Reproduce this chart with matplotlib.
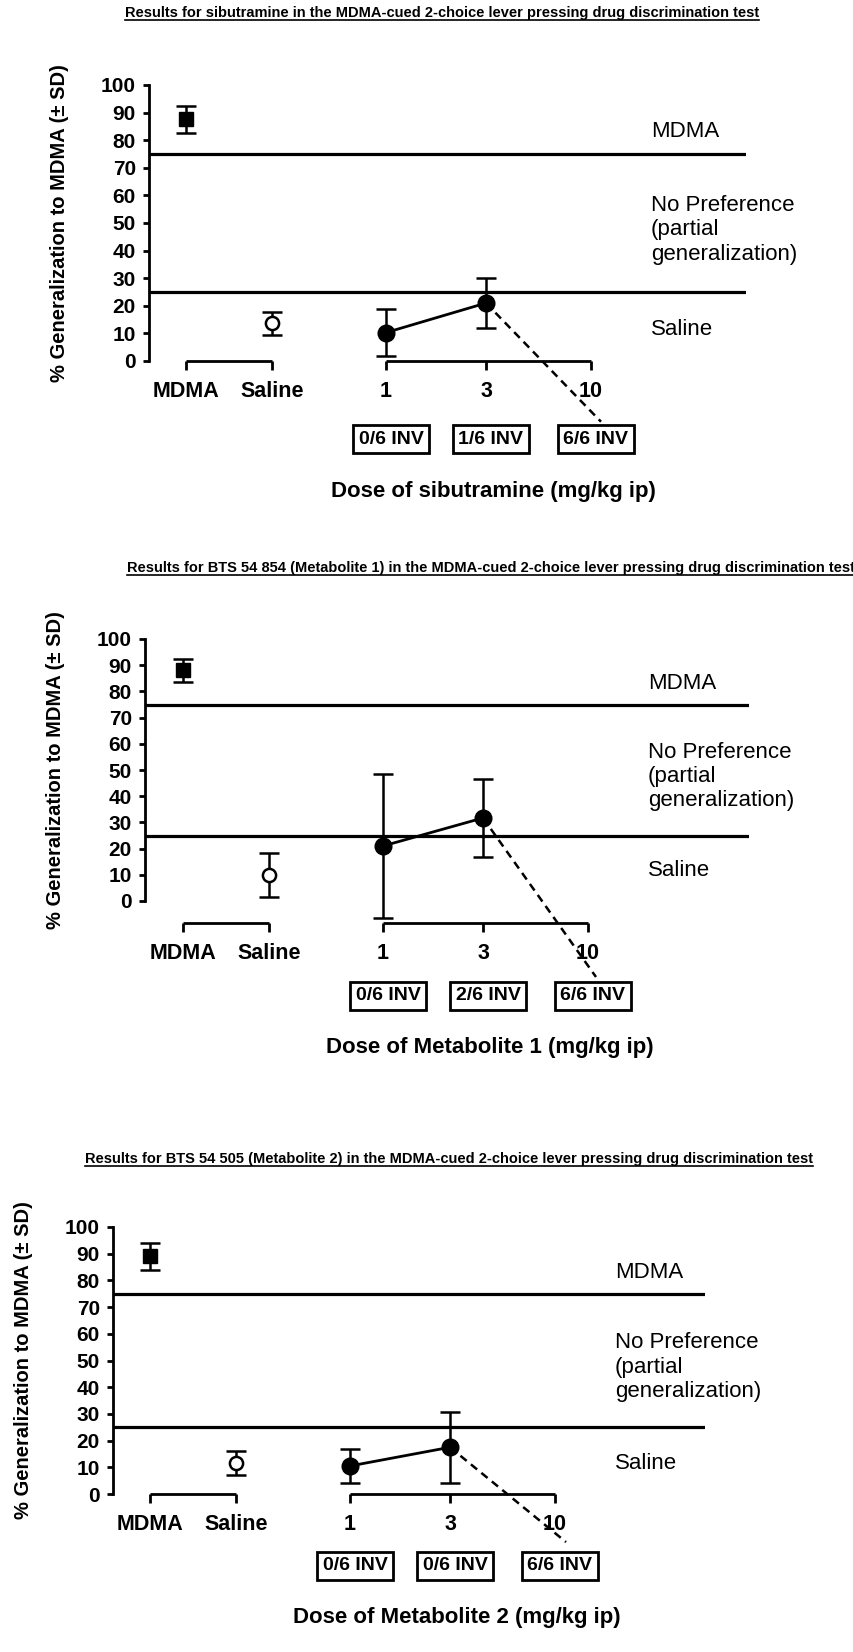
import matplotlib
matplotlib.use('Agg')
import matplotlib.pyplot as plt
from matplotlib.lines import Line2D

plt.rcParams['font.family'] = ['Liberation Sans', 'DejaVu Sans']

W, H, DPI = 854, 1652, 100

# x axis categories
x_labels = ['MDMA', 'Saline', '1', '3', '10']
x_pos = [0, 0.86, 2, 3, 4.05]

titles = [
    'Results for sibutramine in the MDMA-cued 2-choice lever pressing drug discrimination test',
    'Results for BTS 54 854 (Metabolite 1) in the MDMA-cued 2-choice lever pressing drug discrimination test',
    'Results for BTS 54 505 (Metabolite 2) in the MDMA-cued 2-choice lever pressing drug discrimination test',
]
x_titles = [
    'Dose of sibutramine (mg/kg ip)',
    'Dose of Metabolite 1 (mg/kg ip)',
    'Dose of Metabolite 2 (mg/kg ip)',
]
inv_labels = [
    ['0/6 INV', '1/6 INV', '6/6 INV'],
    ['0/6 INV', '2/6 INV', '6/6 INV'],
    ['0/6 INV', '0/6 INV', '6/6 INV'],
]

# mean and SD: MDMA, Saline, dose 1, dose 3
sib_mean = [87.5, 13.6, 10.3, 21.0]
sib_sd = [5.0, 4.2, 8.5, 9.0]
met1_mean = [88.0, 9.9, 21.0, 31.7]
met1_sd = [4.5, 8.4, 27.3, 14.9]
met2_mean = [89.0, 11.5, 10.5, 17.5]
met2_sd = [5.0, 4.5, 6.2, 13.3]
means = [sib_mean, met1_mean, met2_mean]
sds = [sib_sd, met1_sd, met2_sd]

# dashed line from 3 mg/kg towards 10 mg/kg (all invalid)
dash_end_x = [4.15, 4.13, 4.16]
dash_end_y = [-22, -29, -18]

# layout of each panel in pixels: left, right, top(100), bottom(0), x of MDMA,
# bracket offset, title centre x, title baseline, box offset, xlabel offset
panels = [
    (149, 746, 85, 361, 186, 0, 442, 17, 78, 131),
    (145, 749, 639, 901, 183, 22, 491, 572, 95, 146),
    (113, 705, 1227, 1494, 150, 0, 449, 1163, 72, 123),
]

fig = plt.figure(figsize=(W / DPI, H / DPI), dpi=DPI)
title_texts = []

for i, (l, r, t, b, x0, br_off, tx, ty, box_off, xl_off) in enumerate(panels):
    ax = fig.add_axes([l / W, 1 - b / H, (r - l) / W, (b - t) / H])
    ax.set_xlim((l - x0) / 100, (r - x0) / 100)
    ax.set_ylim(0, 100)
    ax.patch.set_visible(False)

    for s in ['top', 'right']:
        ax.spines[s].set_visible(False)
    ax.spines['left'].set_linewidth(2.0)
    ax.spines['bottom'].set_position(('outward', br_off * 72 / DPI))
    ax.spines['bottom'].set_visible(False)

    ax.set_yticks(range(0, 101, 10))
    ax.tick_params(axis='y', direction='out', length=4.5, width=2.0, pad=5,
                   labelsize=15)
    ax.set_xticks(x_pos)
    ax.set_xticklabels(x_labels)
    ax.tick_params(axis='x', direction='out', length=6.5, width=2.0, pad=8,
                   labelsize=15.5)
    for lab in ax.get_xticklabels() + ax.get_yticklabels():
        lab.set_fontweight('bold')

    # bracket style x axis, two pieces
    tr = ax.get_xaxis_transform(which='tick1')
    ax.plot(x_pos[0:2], [0, 0], transform=tr, color='k', lw=2.0,
            clip_on=False, solid_capstyle='butt')
    ax.plot(x_pos[2:5], [0, 0, 0], transform=tr, color='k', lw=2.0,
            clip_on=False, solid_capstyle='butt')

    ax.axhline(75, color='k', lw=2.3)
    ax.axhline(25, color='k', lw=2.3)

    m = means[i]
    sd = sds[i]
    ekw = dict(color='k', elinewidth=1.8, capsize=7, capthick=1.8, clip_on=False)
    ax.errorbar(x_pos[0], m[0], yerr=sd[0], fmt='s', ms=10, mfc='k', mec='k', **ekw)
    ax.errorbar(x_pos[1], m[1], yerr=sd[1], fmt='o', ms=9.5, mfc='white', mec='k',
                mew=1.8, **ekw)
    ax.plot(x_pos[2:4], m[2:4], color='k', lw=2.0, zorder=2)
    ax.plot([x_pos[3], dash_end_x[i]], [m[3], dash_end_y[i]], color='k', lw=1.8,
            linestyle=(0, (3.2, 2.2)), clip_on=False, zorder=2)
    ax.errorbar(x_pos[2:4], m[2:4], yerr=sd[2:4], fmt='o', ms=12, mfc='k', mec='k',
                **ekw)

    # region labels
    ax.text(4.65, 83, 'MDMA', fontsize=16, va='center', ha='left', clip_on=False)
    ax.text(4.65, 47.5, 'No Preference\n(partial\ngeneralization)', fontsize=16,
            va='center', ha='left', linespacing=1.2, clip_on=False)
    ax.text(4.65, 11.5, 'Saline', fontsize=16, va='center', ha='left', clip_on=False)

    # INV boxes under the doses
    for xp, lab in zip(x_pos[2:5], inv_labels[i]):
        ax.annotate(lab, xy=(xp, -box_off), xycoords=('data', 'axes pixels'),
                    xytext=(5, 0), textcoords='offset pixels',
                    ha='center', va='center', fontsize=14, fontweight='bold',
                    bbox=dict(boxstyle='square,pad=0.3', fc='white', ec='k', lw=2.0),
                    annotation_clip=False, zorder=5)

    ax.annotate(x_titles[i], xy=(3.07, -xl_off), xycoords=('data', 'axes pixels'),
                ha='center', va='center', fontsize=16, fontweight='bold',
                annotation_clip=False)
    ax.annotate('% Generalization to MDMA (\u00b1 SD)', xy=(-89, 0.5),
                xycoords=('axes pixels', 'axes fraction'), rotation=90,
                ha='center', va='center', fontsize=14.5, fontweight='bold',
                annotation_clip=False)

    title_texts.append(fig.text(tx / W, 1 - ty / H, titles[i], ha='center',
                                va='baseline', fontsize=10.5, fontweight='bold'))

# underline the titles
fig.canvas.draw()
rend = fig.canvas.get_renderer()
for (l, r, t, b, x0, br_off, tx, ty, box_off, xl_off), txt in zip(panels, title_texts):
    bb = txt.get_window_extent(rend)
    yl = 1 - (ty + 3) / H
    fig.add_artist(Line2D([bb.x0 / W, bb.x1 / W], [yl, yl], color='k', lw=1.2,
                          transform=fig.transFigure))

fig.savefig('out.png', dpi=DPI)
